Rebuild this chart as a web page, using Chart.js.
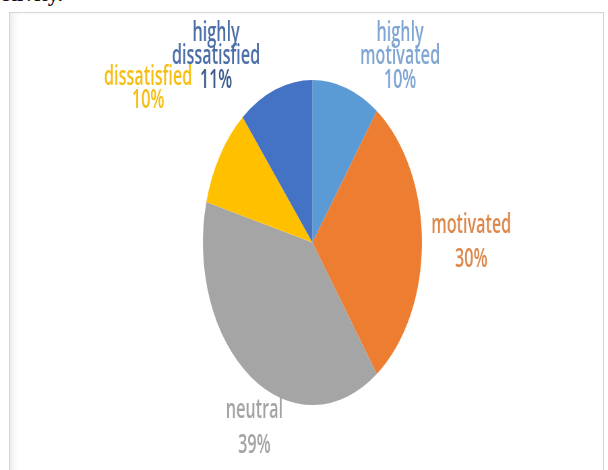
<!DOCTYPE html>
<html>
<head>
<meta charset="utf-8">
<script src="https://cdn.jsdelivr.net/npm/chart.js@4"></script>
<style>
  html, body { margin: 0; padding: 0; background: #fff; overflow: hidden; }
  body { width: 608px; height: 470px; position: relative; }
  #top { position: absolute; left: 0; top: -17px; font: bold 22px "Liberation Serif", serif; line-height: 22px; color: #111; }
  #frame { position: absolute; left: 9px; top: 12px; width: 593px; height: 480px;
           border: 1px solid #d6d6d6; border-bottom: none; box-shadow: inset 8px 2px 8px -6px #e4e4e4; }
  #pie { position: absolute; left: 0; top: 0; width: 608px; height: 470px; }
</style>
</head>
<body>
<div id="top">ctivity.</div>
<div id="frame"></div>
<canvas id="pie" width="902" height="470" style="width:608px;height:470px"></canvas>
<script>
var categories = ['highly motivated', 'motivated', 'neutral', 'dissatisfied', 'highly dissatisfied'];
var values = [10, 30, 39, 10, 11];
var sliceColors = ['#5B9BD5', '#ED7D31', '#A5A5A5', '#FFC000', '#4472C4'];
var textColors = ['#7FA5D2', '#DC874B', '#A3A3A3', '#F5BE12', '#4C6EA8'];

// where each label block sits, relative to the pie centre, in radius units
var labelOffsets = [[0.80, -1.145], [1.45, 0.0], [-0.53, 1.142], [-1.50, -0.945], [-0.88, -1.145]];
var lineGaps = [23.5, 34, 35, 23, 23.5];

var labelPlugin = {
    id: 'sliceLabels',
    afterDatasetsDraw: function(chart) {
        var ctx = chart.ctx;
        var meta = chart.getDatasetMeta(0);
        var total = values.reduce(function(a, b) { return a + b; }, 0);
        ctx.save();
        ctx.font = '600 24px "Open Sans"';
        ctx.textAlign = 'center';
        ctx.textBaseline = 'middle';
        meta.data.forEach(function(arc, i) {
            var p = arc.getProps(['x', 'y', 'outerRadius'], true);
            var lines = categories[i].split(' ');
            lines.push(Math.round(values[i] / total * 100) + '%');
            var cx = p.x + labelOffsets[i][0] * p.outerRadius;
            var cy = p.y + labelOffsets[i][1] * p.outerRadius;
            var gap = lineGaps[i];
            var y0 = cy - (lines.length - 1) * gap / 2;
            lines.forEach(function(t, j) {
                ctx.fillStyle = (i == 4 && j == lines.length - 1) ? '#3D5C8E' : textColors[i];
                ctx.save();
                ctx.translate(cx, y0 + j * gap);
                ctx.scale(1, 1.15);
                ctx.fillText(t, 0, 0);
                ctx.restore();
            });
        });
        ctx.restore();
    }
};

var config = {
    type: 'pie',
    data: {
        labels: categories,
        datasets: [{
            data: values,
            backgroundColor: sliceColors,
            borderWidth: 0
        }]
    },
    options: {
        responsive: false,
        animation: false,
        layout: { padding: { left: 301, right: 276, top: 80, bottom: 65 } },
        plugins: {
            legend: { display: false },
            tooltip: { enabled: false }
        }
    },
    plugins: [labelPlugin]
};

var pieChart = new Chart(document.getElementById('pie'), config);
</script>
</body>
</html>
